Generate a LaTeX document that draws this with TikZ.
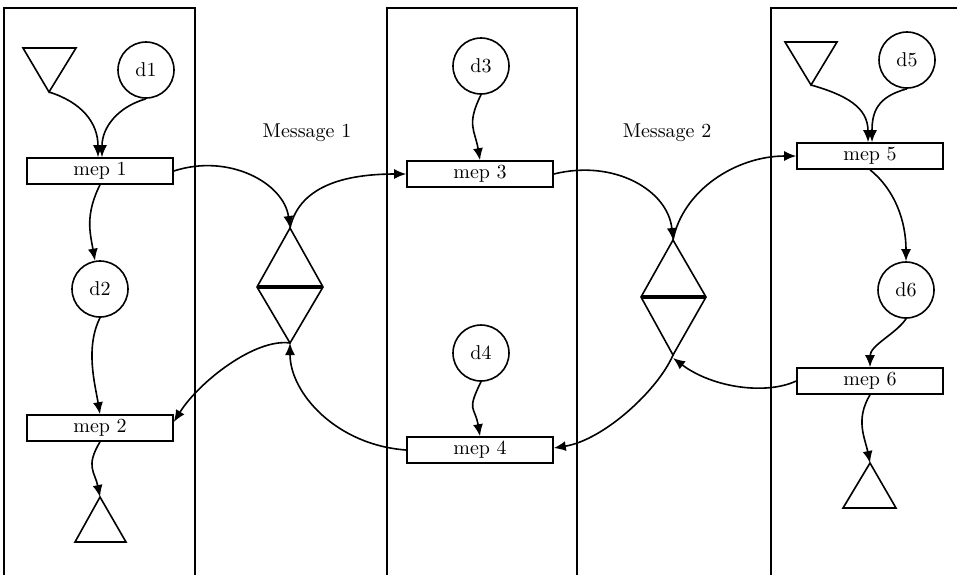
\documentclass[tikz,border=0pt]{standalone}
\usetikzlibrary{arrows.meta, positioning}

\begin{document}
\begin{tikzpicture}[
      x=0.5pt, y=-0.5pt, line width=0.8pt,
      mep/.style = {draw, minimum width=73pt, minimum height=13pt, inner sep=0pt},
      dat/.style = {draw, circle, minimum size=28pt, inner sep=0pt},
      bar/.style = {line width=1.7pt},
      ar/.style = {-{Latex[length=6pt, width=5pt]}} ]
    \useasboundingbox (0,0) rectangle (957,575);
    % lanes
    \draw (4,575) -- (4,8) -- (195,8) -- (195,575);
    \draw (387,575) -- (387,8) -- (577,8) -- (577,575);
    \draw (771,575) -- (771,8) -- (957,8);
    % left lane
    \coordinate (srcA) at (49,92);
    \draw (srcA) -- +(-26,-44) -- +(27,-44) -- cycle;
    \node[dat] (d1) at (146,70) {d1};
    \node[mep] (m1) at (100,171) {mep 1};
    \node[dat] (d2) at (100,289) {d2};
    \node[mep] (m2) at (100,428) {mep 2};
    \coordinate (snkA) at (100,497);
    \draw (snkA) -- +(-25,45) -- +(26,45) -- cycle;
    % middle lane
    \node[dat] (d3) at (481,66) {d3};
    \node[mep] (m3) at (480,174) {mep 3};
    \node[dat] (d4) at (481,353) {d4};
    \node[mep] (m4) at (480,450) {mep 4};
    % right lane
    \coordinate (srcB) at (811,85);
    \draw (srcB) -- +(-26,-43) -- +(26,-43) -- cycle;
    \node[dat] (d5) at (907,60) {d5};
    \node[mep] (m5) at (870,156) {mep 5};
    \node[dat] (d6) at (906,290) {d6};
    \node[mep] (m6) at (870,381) {mep 6};
    \coordinate (snkB) at (870,463);
    \draw (snkB) -- +(-27,45) -- +(26,45) -- cycle;
    % message exchanges
    \coordinate (x1t) at (290,228);  \coordinate (x1b) at (290,343);
    \draw (x1t) -- (257,287) -- (x1b) -- (323,287) -- cycle;
    \draw[bar] (257,287) -- (323,287);
    \coordinate (x2t) at (673,240);  \coordinate (x2b) at (673,355);
    \draw (x2t) -- (641,297) -- (x2b) -- (706,297) -- cycle;
    \draw[bar] (641,297) -- (706,297);
    \node (msg1) at (307,133) {Message 1};
    \node (msg2) at (667,133) {Message 2};
    % flows in the lanes
    \draw[ar] (srcA) .. controls +(32,10) and +(0,-35) .. ([xshift=-1pt]m1.north);
    \draw[ar] (d1.south) .. controls +(-28,8) and +(0,-30) .. ([xshift=1pt]m1.north);
    \draw[ar] (m1.south) .. controls +(-15,30) and +(-5,-28) .. (d2.100);
    \draw[ar] (d2.south) .. controls +(-15,30) and +(-5,-30) .. (m2.north);
    \draw[ar] (m2.south) .. controls +(-15,25) and +(-5,-25) .. (snkA);
    \draw[ar] (d3.south) .. controls +(-15,30) and +(-5,-30) .. (m3.north);
    \draw[ar] (d4.south) .. controls +(-15,30) and +(-5,-30) .. (m4.north);
    \draw[ar] (srcB) .. controls +(35,10) and +(0,-35) .. ([xshift=-1pt]m5.north);
    \draw[ar] (d5.south) .. controls +(-30,8) and +(0,-30) .. ([xshift=1pt]m5.north);
    \draw[ar] (m5.south) .. controls +(25,20) and +(0,-40) .. (d6.north);
    \draw[ar] (d6.south) .. controls +(-10,15) and +(0,-22) .. (m6.north);
    \draw[ar] (m6.south) .. controls +(-15,25) and +(-5,-25) .. (snkB);
    % flows between the lanes
    \draw[ar] (m1.east) .. controls +(55,-18) and +(-6,-45) .. (x1t);
    \draw[ar] (x1t) .. controls +(10,-45) and +(-55,0) .. (m3.west);
    \draw[ar] (x1b) .. controls +(-35,-5) and +(25,-40) .. ([yshift=3pt]m2.east);
    \draw[ar] (m4.west) .. controls +(-70,-5) and +(0,50) .. (x1b);
    \draw[ar] (m3.east) .. controls +(60,-15) and +(-5,-50) .. (x2t);
    \draw[ar] (x2t) .. controls +(10,-50) and +(-60,0) .. (m5.west);
    \draw[ar] (x2b) .. controls +(-15,35) and +(50,-8) .. ([yshift=1pt]m4.east);
    \draw[ar] (m6.west) .. controls +(-30,14) and +(40,30) .. ([yshift=-1.5pt]x2b);
\end{tikzpicture}
\end{document}
